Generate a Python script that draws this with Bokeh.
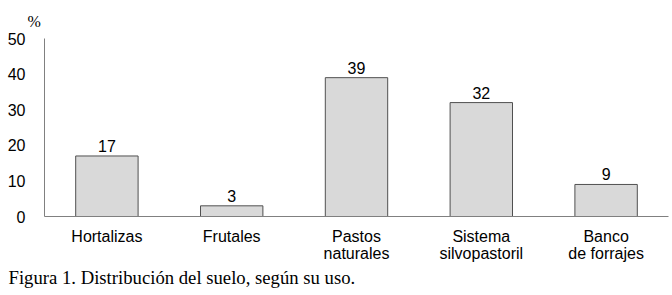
from bokeh.plotting import figure
from bokeh.models import ColumnDataSource, Title, LabelSet, Range1d, FactorRange
from bokeh.core.properties import value
from bokeh.embed import file_html
from bokeh.resources import INLINE

categories = ["Hortalizas", "Frutales", "Pastos\nnaturales", "Sistema\nsilvopastoril", "Banco\nde forrajes"]
values = [17, 3, 39, 32, 9]
value_labels = ["17", "3", "39", "32", "9"]
y_ticks = [0, 10, 20, 30, 40, 50]

src = ColumnDataSource(dict(cat=categories, val=values, lab=value_labels))

p = figure(x_range=FactorRange(*categories, range_padding=0), y_range=Range1d(0, 50),
           width=672, height=295, output_backend="svg", toolbar_location=None,
           min_border_left=44, min_border_right=4, min_border_top=38, min_border_bottom=79)
p.outline_line_color = None
p.grid.grid_line_color = None
p.background_fill_color = "white"

p.vbar(x="cat", top="val", width=0.5, source=src, fill_color="#d9d9d9",
       line_color="#505050", line_width=1)

labels = LabelSet(x="cat", y="val", text="lab", source=src, text_align="center",
                  text_baseline="bottom", y_offset=4, text_font=value("Liberation Sans"),
                  text_font_size=value("16px"), text_color="#000000")
p.add_layout(labels)

p.yaxis.ticker = y_ticks
p.yaxis.major_tick_line_color = None
p.yaxis.minor_tick_line_color = None
p.yaxis.axis_line_color = "#808080"
p.yaxis.major_label_standoff = 13
p.yaxis.major_label_text_font = "Liberation Sans"
p.yaxis.major_label_text_font_size = "16px"
p.yaxis.major_label_text_color = "#000000"

p.xaxis.major_tick_line_color = None
p.xaxis.minor_tick_line_color = None
p.xaxis.axis_line_color = "#808080"
p.xaxis.major_label_standoff = 5
p.xaxis.major_label_text_font = "Liberation Sans"
p.xaxis.major_label_text_font_size = "16px"
p.xaxis.major_label_text_line_height = 1.0
p.xaxis.major_label_text_color = "#000000"

pct = Title(text="%", align="left", text_font="Liberation Serif", text_font_size="16px",
            text_font_style="normal", text_color="#000000", offset=-17, standoff=18)
p.add_layout(pct, "above")

cap = Title(text="Figura 1. Distribución del suelo, según su uso.", align="left",
            text_font="Liberation Serif", text_font_size="18.7px", text_font_style="normal",
            text_color="#000000", offset=-36, standoff=0)
p.add_layout(cap, "below")

open("out.html", "w").write(file_html(p, INLINE))
